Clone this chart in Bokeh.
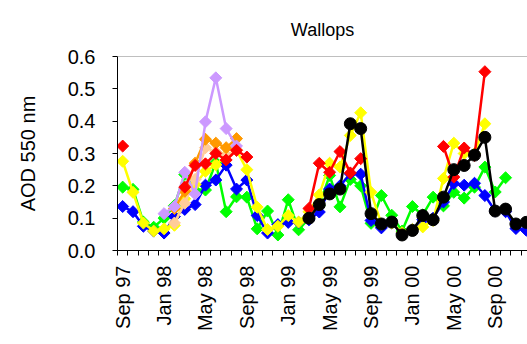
import numpy as np
from bokeh.plotting import figure
from bokeh.models import FixedTicker, Range1d, Span
from bokeh.embed import file_html
from bokeh.resources import INLINE

nan = float("nan")

title_text = "Wallops"
months = ["Sep 97", "Oct 97", "Nov 97", "Dec 97",
          "Jan 98", "Feb 98", "Mar 98", "Apr 98", "May 98", "Jun 98",
          "Jul 98", "Aug 98", "Sep 98", "Oct 98", "Nov 98", "Dec 98",
          "Jan 99", "Feb 99", "Mar 99", "Apr 99", "May 99", "Jun 99",
          "Jul 99", "Aug 99", "Sep 99", "Oct 99", "Nov 99", "Dec 99",
          "Jan 00", "Feb 00", "Mar 00", "Apr 00", "May 00", "Jun 00",
          "Jul 00", "Aug 00", "Sep 00", "Oct 00", "Nov 00", "Dec 00"]
shown_labels = ["Sep 97", "Jan 98", "May 98", "Sep 98", "Jan 99",
                "May 99", "Sep 99", "Jan 00", "May 00", "Sep 00"]

green = [0.196, 0.189, 0.088, 0.072, 0.100, 0.139, 0.235, 0.186, 0.187, 0.272,
         0.120, 0.166, 0.165, 0.067, 0.122, 0.048, 0.157, 0.064, 0.100, 0.140,
         0.232, 0.135, 0.220, 0.200, 0.084, 0.170, 0.109, 0.060, 0.136, 0.110,
         0.165, 0.138, 0.180, 0.162, 0.196, 0.258, 0.181, 0.225, nan, nan]
blue = [0.136, 0.120, 0.075, 0.060, 0.054, 0.105, 0.127, 0.142, 0.202, 0.218,
        0.264, 0.190, 0.218, 0.108, 0.054, 0.080, 0.087, 0.087, 0.095, 0.119,
        0.190, 0.200, 0.237, 0.236, 0.093, 0.070, 0.085, 0.053, 0.065, 0.095,
        0.100, 0.150, 0.207, 0.202, 0.208, 0.170, 0.122, 0.120, 0.068, 0.063]
yellow = [0.276, 0.180, 0.085, 0.060, 0.067, 0.078, 0.160, 0.204, 0.245, 0.265,
          0.295, 0.310, 0.250, 0.134, 0.065, 0.075, 0.108, 0.088, 0.120, 0.172,
          0.270, 0.258, 0.356, 0.426, 0.180, 0.082, 0.085, 0.055, 0.065, 0.073,
          0.093, 0.223, 0.332, 0.300, 0.300, 0.392, nan, nan, nan, nan]
peach = [nan, nan, nan, nan, nan, 0.085, 0.146, 0.220, 0.318, 0.305,
         0.294, 0.310] + [nan] * 28
orange = [nan, nan, nan, nan, nan, 0.130, 0.183, 0.270, 0.344, 0.332,
          0.318, 0.346] + [nan] * 28
purple = [nan, nan, nan, nan, 0.114, 0.136, 0.242, 0.175, 0.398, 0.534,
          0.377, 0.323] + [nan] * 28
red = [0.323, nan, nan, nan, nan, nan, 0.196, 0.263, 0.268, 0.300,
       0.280, 0.310, 0.289, nan, nan, nan, nan, nan, 0.130, 0.270,
       0.242, 0.306, 0.240, 0.284, nan, nan, nan, nan, nan, nan,
       nan, 0.322, 0.227, 0.317, 0.294, 0.553, nan, nan, nan, nan]
black = [nan] * 18 + [0.100, 0.142, 0.175, 0.190, 0.392, 0.377, 0.114, 0.082,
                      0.088, 0.048, 0.062, 0.108, 0.095, 0.165, 0.250, 0.263,
                      0.295, 0.350, 0.122, 0.128, 0.082, 0.087]

x = np.arange(len(months))
FONT = "Liberation Sans"

p = figure(width=527, height=344, output_backend="svg", toolbar_location=None,
           x_range=Range1d(-0.5, 39.12), y_range=Range1d(0, 0.6),
           min_border_left=117, min_border_right=0, min_border_top=56,
           min_border_bottom=94)
p.outline_line_color = None
p.grid.visible = False
p.background_fill_color = "white"
p.border_fill_color = "white"

p.title.text = title_text
p.title.align = "center"
p.title.text_font = FONT
p.title.text_font_size = "18px"
p.title.text_font_style = "normal"
p.title.text_color = "black"
p.title.standoff = 34

series = [
    (green, "#00FF00", "diamond"),
    (blue, "#0000FF", "diamond"),
    (yellow, "#FFFF00", "diamond"),
    (peach, "#FFCC99", "diamond"),
    (orange, "#FF9900", "diamond"),
    (purple, "#CC99FF", "diamond"),
    (red, "#FF0000", "diamond"),
    (black, "#000000", "circle"),
]
for vals, col, mk in series:
    arr = np.array(vals, dtype=float)
    p.line(x, arr, line_color=col, line_width=2.5)
    if mk == "diamond":
        p.scatter(x, arr, marker="square", angle=np.pi / 4, size=8.5,
                  fill_color=col, line_color=col)
    else:
        p.scatter(x, arr, marker="circle", size=12,
                  fill_color=col, line_color=col)

p.add_layout(Span(location=0.6, dimension="width", line_color="#808080",
                  line_width=1))

# x axis
label_idx = [months.index(m) for m in shown_labels]
p.xaxis.ticker = FixedTicker(ticks=label_idx,
                             minor_ticks=list(np.arange(-0.5, 40, 1.0)))
p.xaxis.major_label_overrides = {i: months[i] for i in label_idx}
p.xaxis.major_tick_line_color = None
p.xaxis.minor_tick_in = 0
p.xaxis.minor_tick_out = 5
p.xaxis.minor_tick_line_color = "black"
p.xaxis.major_label_orientation = np.pi / 2
p.xaxis.major_label_standoff = 9
p.xaxis.major_label_text_font = FONT
p.xaxis.major_label_text_font_size = "20px"
p.xaxis.major_label_text_color = "black"
p.xaxis.axis_line_color = "black"

# y axis
p.yaxis.ticker = FixedTicker(ticks=[0.0, 0.1, 0.2, 0.3, 0.4, 0.5, 0.6],
                             minor_ticks=[])
p.yaxis.major_label_overrides = {0: "0.0", 0.1: "0.1", 0.2: "0.2", 0.3: "0.3",
                                 0.4: "0.4", 0.5: "0.5", 0.6: "0.6"}
p.yaxis.major_tick_in = 0
p.yaxis.major_tick_out = 5
p.yaxis.minor_tick_line_color = None
p.yaxis.major_label_standoff = 17
p.yaxis.major_label_text_font = FONT
p.yaxis.major_label_text_font_size = "20px"
p.yaxis.major_label_text_color = "black"
p.yaxis.axis_line_color = "black"
p.yaxis.major_tick_line_color = "black"
p.yaxis.axis_label = "AOD 550 nm"
p.yaxis.axis_label_text_font = FONT
p.yaxis.axis_label_text_font_size = "20px"
p.yaxis.axis_label_text_font_style = "normal"
p.yaxis.axis_label_text_color = "black"
p.yaxis.axis_label_standoff = 26

open("out.html", "w").write(file_html(p, INLINE))
